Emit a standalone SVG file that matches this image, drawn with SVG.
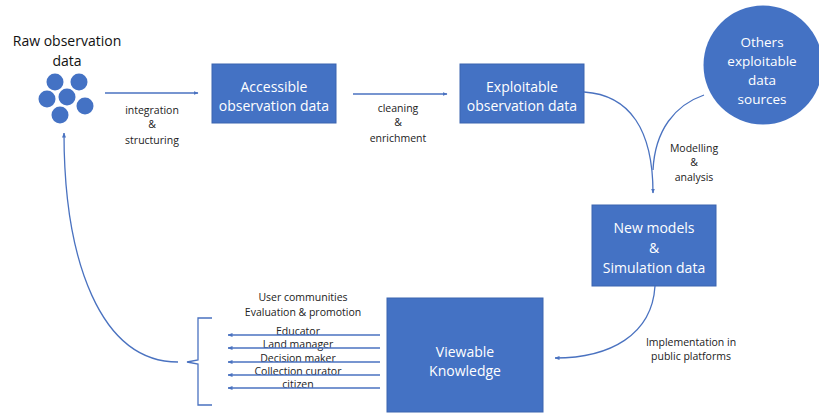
<svg xmlns="http://www.w3.org/2000/svg" width="819" height="417" viewBox="0 0 819 417">
<defs>
<style>
.box{fill:#4472C4;stroke:#3b65b0;stroke-width:1}
.wt{font-family:"Open Sans","Liberation Sans",sans-serif;font-size:14px;fill:#ffffff;text-anchor:middle}
.lb{font-family:"Open Sans","Liberation Sans",sans-serif;font-size:10.5px;fill:#222;text-anchor:middle}
.ttl{font-family:"Open Sans","Liberation Sans",sans-serif;font-size:14px;fill:#111;text-anchor:middle}
.ln{fill:none;stroke:#4a72c0;stroke-width:1.3}
</style>
<marker id="ah" viewBox="0 0 10 10" refX="9" refY="5" markerWidth="5" markerHeight="5" orient="auto" markerUnits="userSpaceOnUse">
<path d="M0,1 L10,5 L0,9 z" fill="#4a72c0"/>
</marker>
</defs>
<rect width="819" height="417" fill="#ffffff"/>

<g id="raw">
<text class="ttl" x="67" y="46">Raw observation</text>
<text class="ttl" x="67" y="66">data</text>
<g fill="#4472C4">
<circle cx="55" cy="82" r="8.5"/>
<circle cx="79" cy="82" r="8.5"/>
<circle cx="47" cy="99" r="8.5"/>
<circle cx="67" cy="97" r="8.5"/>
<circle cx="85" cy="106" r="8.5"/>
<circle cx="60" cy="115" r="8.5"/>
</g>
</g>

<g id="accessible">
<rect class="box" x="212" y="64" width="124" height="59"/>
<text class="wt" x="274" y="92">Accessible</text>
<text class="wt" x="274" y="111">observation data</text>
</g>

<g id="exploitable">
<rect class="box" x="460" y="64" width="124" height="59"/>
<text class="wt" x="522" y="92">Exploitable</text>
<text class="wt" x="522" y="111">observation data</text>
</g>

<g id="others">
<circle cx="763" cy="65" r="59.5" fill="#4472C4"/>
<text class="wt" x="762" y="47" style="font-size:13.5px">Others</text>
<text class="wt" x="762" y="66" style="font-size:13.5px">exploitable</text>
<text class="wt" x="762" y="85" style="font-size:13.5px">data</text>
<text class="wt" x="762" y="104" style="font-size:13.5px">sources</text>
</g>

<g id="newmodels">
<rect class="box" x="592" y="205" width="124" height="81"/>
<text class="wt" x="654" y="233">New models</text>
<text class="wt" x="654" y="253">&amp;</text>
<text class="wt" x="654" y="273">Simulation data</text>
</g>

<g id="viewable">
<rect class="box" x="387" y="298" width="156" height="114"/>
<text class="wt" x="465" y="357">Viewable</text>
<text class="wt" x="465" y="376">Knowledge</text>
</g>

<g id="users">
<text class="lb" x="303" y="301">User communities</text>
<text class="lb" x="303" y="316">Evaluation &amp; promotion</text>
<text class="lb" x="298" y="335">Educator</text>
<text class="lb" x="298" y="348">Land manager</text>
<text class="lb" x="298" y="362">Decision maker</text>
<text class="lb" x="298" y="375">Collection curator</text>
<text class="lb" x="298" y="388">citizen</text>
<path class="ln" d="M212,318 L198,318 L198,360 L187,362 L198,364 L198,405 L212,405"/>
</g>

<g id="connectors">
<path class="ln" d="M105,93 L198,93" marker-end="url(#ah)"/>
<text class="lb" x="152" y="114">integration</text>
<text class="lb" x="152" y="128">&amp;</text>
<text class="lb" x="152" y="144">structuring</text>

<path class="ln" d="M353,94 L447,94" marker-end="url(#ah)"/>
<text class="lb" x="398" y="112">cleaning</text>
<text class="lb" x="398" y="126">&amp;</text>
<text class="lb" x="398" y="142">enrichment</text>

<path class="ln" d="M584,92 C630,95 653,130 653,193" marker-end="url(#ah)"/>
<path class="ln" d="M704,95 C675,105 655,130 653,170"/>
<text class="lb" x="694" y="152">Modelling</text>
<text class="lb" x="694" y="166">&amp;</text>
<text class="lb" x="694" y="181">analysis</text>

<path class="ln" d="M655,286 C652,335 610,358 555,358" marker-end="url(#ah)"/>
<text class="lb" x="691" y="346">Implementation in</text>
<text class="lb" x="691" y="360">public platforms</text>

<path class="ln" d="M380,335 L228,335" marker-end="url(#ah)"/>
<path class="ln" d="M380,348 L228,348" marker-end="url(#ah)"/>
<path class="ln" d="M380,362 L228,362" marker-end="url(#ah)"/>
<path class="ln" d="M380,375 L228,375" marker-end="url(#ah)"/>
<path class="ln" d="M380,388 L228,388" marker-end="url(#ah)"/>

<path class="ln" d="M178,362 C100,362 64,260 64,133" marker-end="url(#ah)"/>
</g>
</svg>
